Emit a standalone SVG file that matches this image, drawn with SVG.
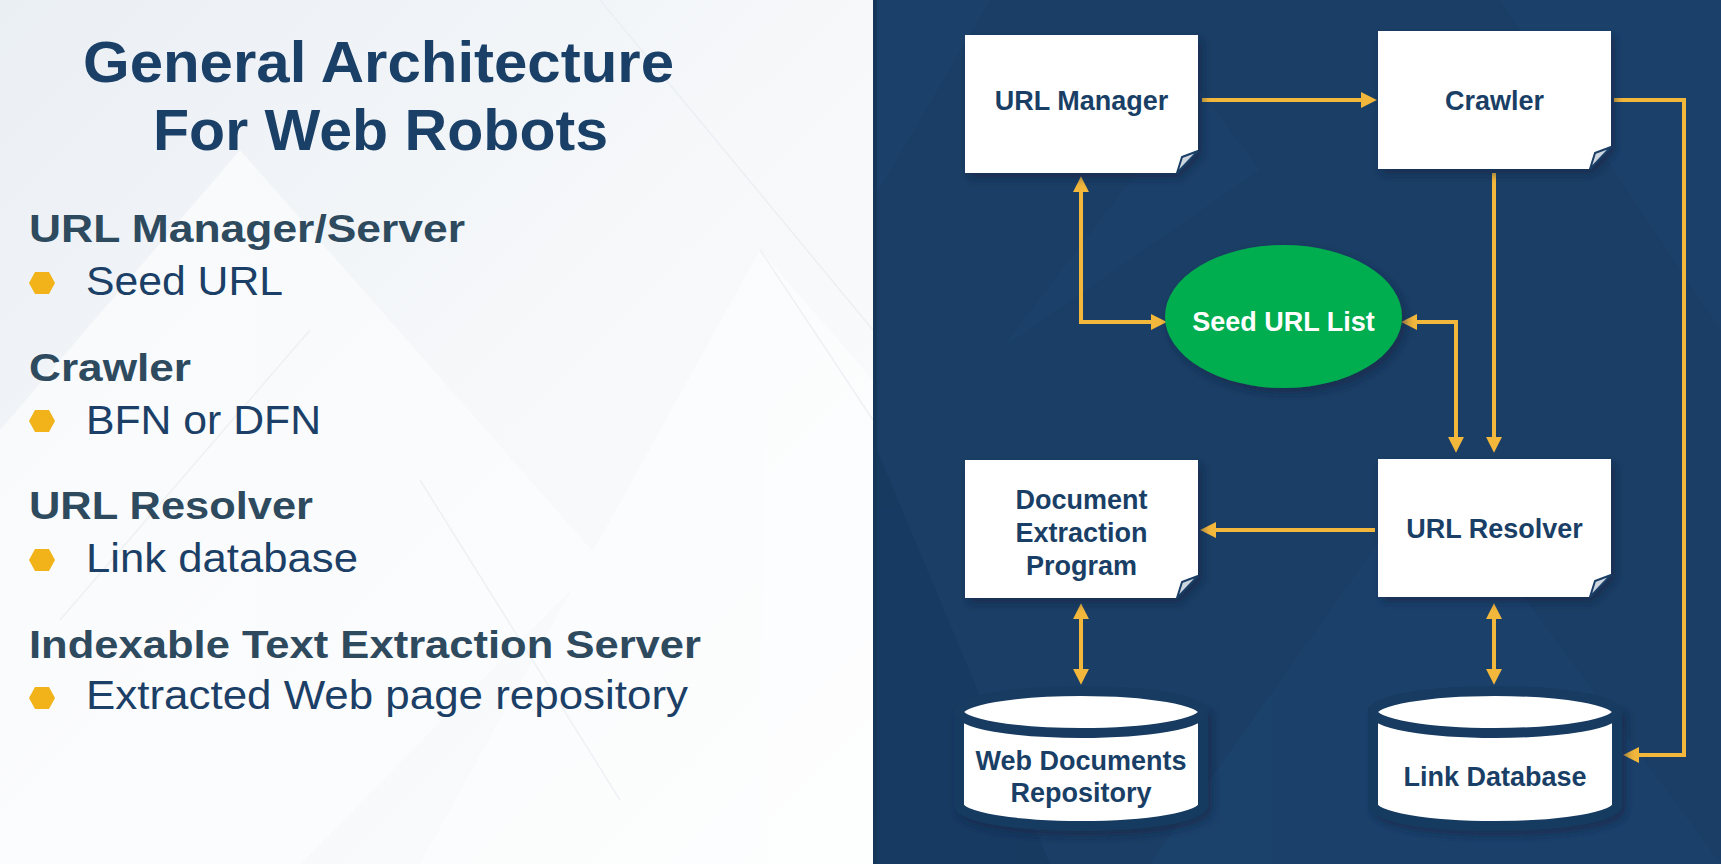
<svg xmlns="http://www.w3.org/2000/svg" xmlns:xlink="http://www.w3.org/1999/xlink" width="1721" height="864" viewBox="0 0 1721 864">
<style>
  .title{font-family:"Liberation Sans",Arial,sans-serif;font-weight:bold;font-size:58px;fill:#1a4068;}
  .head{font-family:"Liberation Sans",Arial,sans-serif;font-weight:bold;font-size:39px;fill:#2e4a5e;}
  .item{font-family:"Liberation Sans",Arial,sans-serif;font-size:40px;fill:#1b3f66;}
  .bullet{fill:#f2b31a;}
  .lbl{font-family:"Liberation Sans",Arial,sans-serif;font-weight:bold;font-size:27px;fill:#1a3f66;text-anchor:middle;}
  .seed{font-family:"Liberation Sans",Arial,sans-serif;font-weight:bold;font-size:27px;fill:#ffffff;text-anchor:middle;}
  .doc{fill:#ffffff;}
  .curl{fill:#cdd5de;stroke:#1a3e65;stroke-width:2;stroke-linejoin:round;}
  .cyl{fill:#ffffff;stroke:#173b61;stroke-width:10;}
  .conn{fill:none;stroke:#f3b73c;stroke-width:4;stroke-linejoin:miter;}
</style>
<defs>
  <linearGradient id="bgL" x1="0" y1="0" x2="1" y2="1">
    <stop offset="0" stop-color="#eaeff4"/>
    <stop offset="0.5" stop-color="#f6f8fa"/>
    <stop offset="1" stop-color="#fbfcfd"/>
  </linearGradient>
  <filter id="sh" x="-20%" y="-20%" width="150%" height="150%">
    <feDropShadow dx="4" dy="5" stdDeviation="4" flood-color="#0a2240" flood-opacity="0.55"/>
  </filter>
  <marker id="ah" markerUnits="userSpaceOnUse" markerWidth="16" markerHeight="16" viewBox="0 0 14 14" refX="8" refY="7" orient="auto-start-reverse">
    <path d="M0,0 L14,7 L0,14 Z" fill="#f3b73c"/>
  </marker>
  <path id="docShape" d="M0,0 H233 V116 L211,138 H0 Z"/>
  <path id="curlShape" d="M212,138 L217,122 L233,116 Z"/>
</defs>

<!-- backgrounds -->
<rect x="0" y="0" width="873" height="864" fill="url(#bgL)"/>
<g fill="#ffffff" opacity="0.55">
  <polygon points="0,430 240,150 600,560 300,864 0,864"/>
  <polygon points="420,864 760,250 873,380 873,864"/>
</g>
<g fill="none" stroke="#e8ecf1" stroke-width="1.5" opacity="0.7">
  <path d="M600,0 L873,330"/>
  <path d="M760,250 L873,420"/>
  <path d="M310,330 L60,620"/>
  <path d="M420,480 L620,800"/>
</g>
<rect x="873" y="0" width="848" height="864" fill="#1a3e65"/>
<g opacity="0.6">
  <polygon points="873,0 990,0 873,200" fill="#1d4470"/>
  <polygon points="873,440 1050,864 873,864" fill="#163960"/>
  <polygon points="1150,864 1430,470 1721,864" fill="#1d4570"/>
  <polygon points="1500,0 1721,0 1721,330" fill="#1d4470"/>
  <polygon points="1000,350 1200,90 1260,170" fill="#1c426c"/>
</g>
<rect x="873" y="0" width="4" height="864" fill="#143659"/>

<!-- left text -->
<g id="title">
  <text class="title" x="83" y="82" textLength="591" lengthAdjust="spacingAndGlyphs">General Architecture</text>
  <text class="title" x="153" y="150" textLength="455" lengthAdjust="spacingAndGlyphs">For Web Robots</text>
</g>
<g id="list">
  <text class="head" x="29" y="242" textLength="436" lengthAdjust="spacingAndGlyphs">URL Manager/Server</text>
  <polygon class="bullet" points="29,283 35,272 49,272 55,283 49,294 35,294"/>
  <text class="item" x="86" y="295" textLength="197" lengthAdjust="spacingAndGlyphs">Seed URL</text>

  <text class="head" x="29" y="381" textLength="162" lengthAdjust="spacingAndGlyphs">Crawler</text>
  <polygon class="bullet" points="29,421 35,410 49,410 55,421 49,432 35,432"/>
  <text class="item" x="86" y="434" textLength="235" lengthAdjust="spacingAndGlyphs">BFN or DFN</text>

  <text class="head" x="29" y="519" textLength="284" lengthAdjust="spacingAndGlyphs">URL Resolver</text>
  <polygon class="bullet" points="29,560 35,549 49,549 55,560 49,571 35,571"/>
  <text class="item" x="86" y="572" textLength="272" lengthAdjust="spacingAndGlyphs">Link database</text>

  <text class="head" x="29" y="658" textLength="672" lengthAdjust="spacingAndGlyphs">Indexable Text Extraction Server</text>
  <polygon class="bullet" points="29,698 35,687 49,687 55,698 49,709 35,709"/>
  <text class="item" x="86" y="709" textLength="602" lengthAdjust="spacingAndGlyphs">Extracted Web page repository</text>
</g>

<!-- connectors -->
<g id="connectors">
  <path class="conn" d="M1202,100 H1370" marker-end="url(#ah)"/>
  <path class="conn" d="M1614,100 H1684 V755 H1630" marker-end="url(#ah)"/>
  <path class="conn" d="M1081,183 V322 H1160" marker-start="url(#ah)" marker-end="url(#ah)"/>
  <path class="conn" d="M1408,322 H1456 V446" marker-start="url(#ah)" marker-end="url(#ah)"/>
  <path class="conn" d="M1494,173 V446" marker-end="url(#ah)"/>
  <path class="conn" d="M1375,530 H1207" marker-end="url(#ah)"/>
  <path class="conn" d="M1081,610 V678" marker-start="url(#ah)" marker-end="url(#ah)"/>
  <path class="conn" d="M1494,610 V678" marker-start="url(#ah)" marker-end="url(#ah)"/>
</g>

<!-- nodes -->
<g id="url-manager" transform="translate(965,35)">
  <use xlink:href="#docShape" class="doc" filter="url(#sh)"/>
  <use xlink:href="#curlShape" class="curl"/>
  <text class="lbl" x="116.5" y="75">URL Manager</text>
</g>
<g id="crawler" transform="translate(1378,31)">
  <use xlink:href="#docShape" class="doc" filter="url(#sh)"/>
  <use xlink:href="#curlShape" class="curl"/>
  <text class="lbl" x="116.5" y="79">Crawler</text>
</g>
<g id="seed-url-list">
  <ellipse cx="1283.5" cy="316.5" rx="118.5" ry="71.5" fill="#00ad4f" filter="url(#sh)"/>
  <text class="seed" x="1283.5" y="331">Seed URL List</text>
</g>
<g id="document-extraction-program" transform="translate(965,460)">
  <use xlink:href="#docShape" class="doc" filter="url(#sh)"/>
  <use xlink:href="#curlShape" class="curl"/>
  <text class="lbl" x="116.5" y="49">Document</text>
  <text class="lbl" x="116.5" y="82">Extraction</text>
  <text class="lbl" x="116.5" y="115">Program</text>
</g>
<g id="url-resolver" transform="translate(1378,459)">
  <use xlink:href="#docShape" class="doc" filter="url(#sh)"/>
  <use xlink:href="#curlShape" class="curl"/>
  <text class="lbl" x="116.5" y="79">URL Resolver</text>
</g>
<g id="web-documents-repository">
  <path class="cyl" filter="url(#sh)" d="M959,712 V805 A122,21 0 0 0 1203,805 V712 Z"/>
  <ellipse class="cyl" cx="1081" cy="712" rx="122" ry="21"/>
  <text class="lbl" x="1081" y="770">Web Documents</text>
  <text class="lbl" x="1081" y="802">Repository</text>
</g>
<g id="link-database">
  <path class="cyl" filter="url(#sh)" d="M1373,712 V805 A122,21 0 0 0 1617,805 V712 Z"/>
  <ellipse class="cyl" cx="1495" cy="712" rx="122" ry="21"/>
  <text class="lbl" x="1495" y="786">Link Database</text>
</g>
</svg>
